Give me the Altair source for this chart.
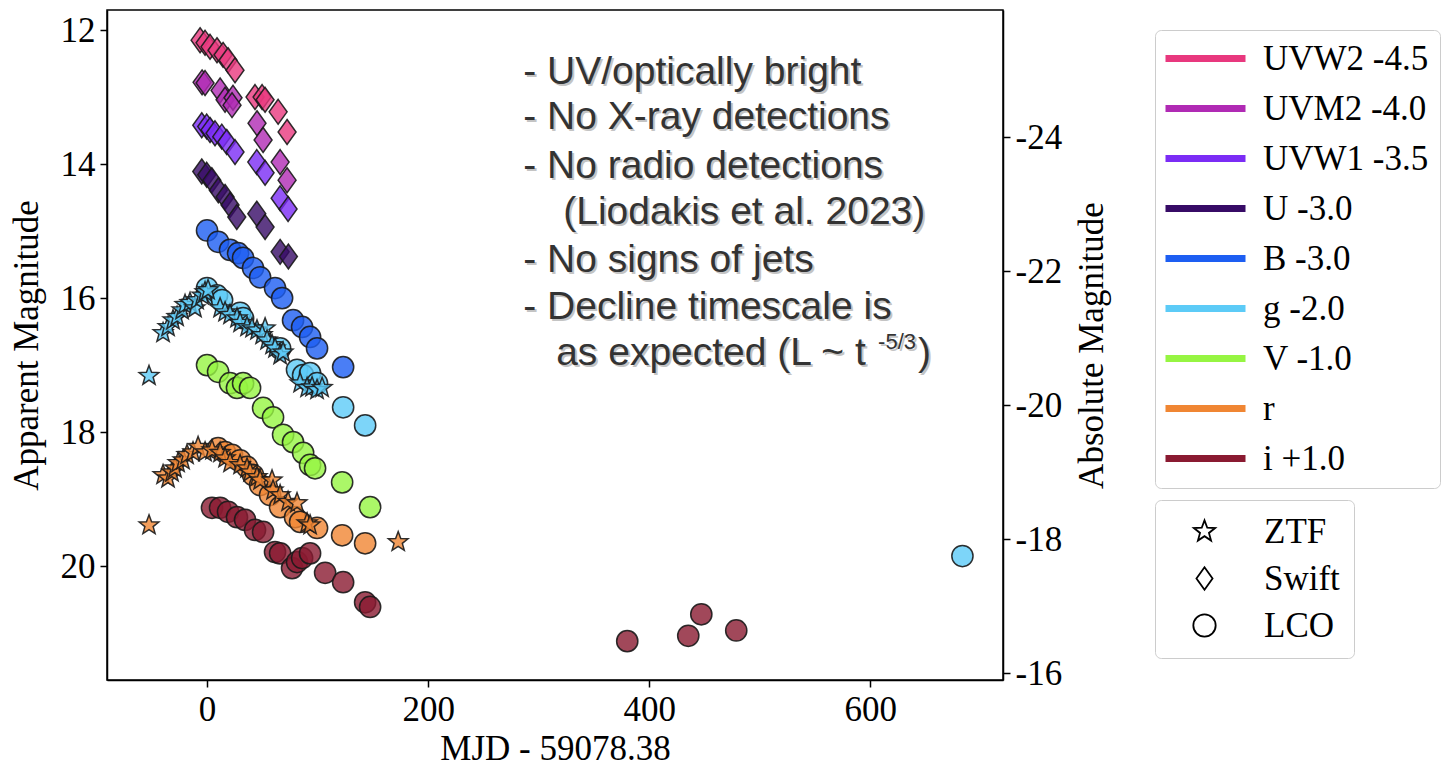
import math
import altair as alt
import pandas as pd

# ---------------- data ----------------
# Swift (diamonds)
uvw2_t = [-6.3, -1.8, 2.7, 9.0, 14.5, 19.0, 25.3, 43.4, 49.8, 52.5, 64.3, 72.4]
uvw2_m = [12.15, 12.19, 12.25, 12.30, 12.37, 12.45, 12.60, 13.00, 13.00, 13.04, 13.22, 13.52]
uvm2_t = [-4.5, -1.8, 11.8, 16.3, 23.5, 22.6, 45.2, 50.7, 66.1, 72.4]
uvm2_m = [12.78, 12.79, 12.90, 13.04, 13.01, 13.12, 13.39, 13.64, 13.97, 14.24]
uvw1_t = [-4.8, -0.3, 2.7, 7.2, 13.3, 17.8, 25.3, 45.0, 52.5, 66.1, 73.3]
uvw1_m = [13.42, 13.44, 13.49, 13.54, 13.59, 13.67, 13.82, 13.97, 14.13, 14.51, 14.67]
u_t = [-4.8, -0.3, 4.3, 10.2, 16.3, 20.8, 26.9, 45.0, 52.5, 66.1, 73.6]
u_m = [14.11, 14.16, 14.24, 14.39, 14.49, 14.61, 14.79, 14.74, 14.94, 15.31, 15.38]
# LCO (circles)
b_t = [0.0, 10.0, 20.8, 28.1, 32.6, 41.6, 48.0, 61.5, 67.9, 77.8, 86.0, 93.2, 99.5, 123.1]
b_m = [14.99, 15.16, 15.28, 15.33, 15.40, 15.55, 15.69, 15.85, 16.00, 16.33, 16.43, 16.58, 16.75, 17.03]
g_lco_t = [0.0, 9.0, 13.6, 29.9, 32.6, 66.1, 81.4, 86.9, 93.2, 99.5, 123.1, 143.0, 683.3]
g_lco_m = [15.85, 15.96, 16.03, 16.22, 16.30, 16.75, 17.07, 17.15, 17.12, 17.27, 17.63, 17.90, 19.85]
v_t = [0.0, 10.0, 20.8, 27.1, 32.6, 38.9, 50.7, 59.7, 68.8, 77.8, 86.9, 93.2, 97.7, 122.2, 147.5]
v_m = [17.00, 17.10, 17.27, 17.34, 17.27, 17.34, 17.64, 17.78, 18.04, 18.15, 18.31, 18.49, 18.54, 18.75, 19.12]
r_lco_t = [10.0, 16.3, 22.6, 29.9, 36.2, 41.6, 48.0, 57.0, 66.1, 79.6, 84.2, 99.5, 122.2, 143.0]
r_lco_m = [18.24, 18.30, 18.34, 18.42, 18.52, 18.64, 18.79, 18.94, 19.12, 19.27, 19.34, 19.43, 19.54, 19.66]
i_t = [4.5, 11.8, 19.0, 27.1, 34.4, 43.4, 50.7, 61.5, 66.1, 76.9, 81.4, 86.0, 93.2, 106.8, 123.1, 143.0,
       147.5, 380.1, 435.3, 447.1, 478.7]
i_m = [19.13, 19.13, 19.19, 19.27, 19.31, 19.46, 19.49, 19.79, 19.81, 20.03, 19.94, 19.88, 19.81, 20.10,
       20.24, 20.54, 20.61, 21.12, 21.04, 20.72, 20.96]
# ZTF (stars)
g_ztf_t = [-52.5, -39.8, -35.3, -30.8, -27.1, -22.6, -19.9, -15.4, -10.9, -9.0, -4.5, -1.8, 0.9, 11.8, 16.3,
           20.8, 27.1, 29.9, 36.2, 40.7, 45.2, 52.5, 49.8, 54.3, 58.8, 61.5, 66.1, 68.8, 84.2, 90.5, 95.0,
           99.5, 104.1]
g_ztf_m = [17.16, 16.52, 16.43, 16.33, 16.28, 16.18, 16.10, 16.07, 16.15, 16.03, 15.96, 15.91, 15.88, 16.15,
           16.21, 16.25, 16.30, 16.37, 16.43, 16.45, 16.48, 16.45, 16.55, 16.63, 16.70, 16.75, 16.85, 16.81,
           17.27, 17.34, 17.33, 17.37, 17.34]
r_ztf_t = [-52.5, -39.8, -35.3, -31.7, -29.0, -26.2, -21.7, -18.1, -12.7, -8.1, -1.8, 4.5, 11.8, 16.3, 20.8,
           29.9, 36.2, 38.9, 45.2, 48.0, 58.8, 59.7, 66.1, 73.3, 81.4, 90.5, 93.2, 172.9]
r_ztf_m = [19.39, 18.64, 18.69, 18.60, 18.54, 18.46, 18.42, 18.34, 18.30, 18.22, 18.30, 18.27, 18.31, 18.39,
           18.46, 18.49, 18.54, 18.60, 18.67, 18.72, 18.72, 18.87, 18.94, 19.04, 19.06, 19.36, 19.39, 19.64]

BANDS = ["UVW2 -4.5", "UVM2 -4.0", "UVW1 -3.5", "U -3.0", "B -3.0", "g -2.0", "V -1.0", "r", "i +1.0"]
COLORS = ["#e8387e", "#b02ab4", "#7b2cf5", "#370b66", "#1d5ef2", "#5ccbf7", "#96f542", "#f08633", "#8a1a31"]
SURVEYS = ["ZTF", "Swift", "LCO"]
DIST_MOD = 37.6

ann_text = ["- UV/optically bright", "- No X-ray detections", "- No radio detections",
            "(Liodakis et al. 2023)", "- No signs of jets", "- Decline timescale is",
            "as expected (L ~ t"]
ann_x = [286.0, 286.0, 286.0, 322.2, 286.0, 286.0, 315.8]
ann_y = [12.63, 13.30, 14.03, 14.72, 15.43, 16.13, 16.82]
sup_text = ["-5/3"]
sup_x = [607.0]
sup_y = [16.66]
close_text = [")"]
close_x = [643.0]
close_y = [16.82]

# ---------------- table ----------------
rows = []


def add(band, survey, ts, ms):
    for t, m in zip(ts, ms):
        rows.append({"t": t, "mag": m, "band": band, "survey": survey})


add(BANDS[0], "Swift", uvw2_t, uvw2_m)
add(BANDS[1], "Swift", uvm2_t, uvm2_m)
add(BANDS[2], "Swift", uvw1_t, uvw1_m)
add(BANDS[3], "Swift", u_t, u_m)
add(BANDS[4], "LCO", b_t, b_m)
add(BANDS[5], "LCO", g_lco_t, g_lco_m)
add(BANDS[5], "ZTF", g_ztf_t, g_ztf_m)
add(BANDS[6], "LCO", v_t, v_m)
add(BANDS[7], "LCO", r_lco_t, r_lco_m)
add(BANDS[7], "ZTF", r_ztf_t, r_ztf_m)
add(BANDS[8], "LCO", i_t, i_m)
df = pd.DataFrame(rows)
df["order"] = range(len(df))

ann = pd.DataFrame({"t": ann_x, "mag": ann_y, "text": ann_text})
sup = pd.DataFrame({"t": sup_x, "mag": sup_y, "text": sup_text})
clo = pd.DataFrame({"t": close_x, "mag": close_y, "text": close_text})

# ---------------- symbols ----------------
pts = []
for k in range(10):
    rad = 1.0 if k % 2 == 0 else 0.42
    a = -math.pi / 2 + k * math.pi / 5
    pts.append(f"{rad * math.cos(a):.3f},{rad * math.sin(a):.3f}")
STAR = "M" + "L".join(pts) + "Z"
DIAMOND = "M0,-1L0.72,0L0,1L-0.72,0Z"
MARK_SIZE = {"ZTF": 430, "Swift": 620, "LCO": 450}

SERIF = "Liberation Serif"
SANS = "Liberation Sans"

x_scale = alt.Scale(domain=[-90.5, 720], nice=False, zero=False)
y_scale = alt.Scale(domain=[11.7, 21.7], reverse=True, nice=False, zero=False)
y2_scale = alt.Scale(domain=[11.7 - DIST_MOD, 21.7 - DIST_MOD], reverse=True, nice=False, zero=False)

X = alt.X("t:Q", scale=x_scale,
          axis=alt.Axis(title="MJD - 59078.38", values=[0, 200, 400, 600], format="d"))
Y = alt.Y("mag:Q", scale=y_scale,
          axis=alt.Axis(title="Apparent Magnitude", values=[12, 14, 16, 18, 20], format="d",
                        titlePadding=16))

shape_legend = alt.Legend(title=None, orient="none", legendX=1048, legendY=490,
                          symbolFillColor="white", symbolStrokeColor="black",
                          symbolStrokeWidth=1.8, symbolSize=500, symbolOpacity=1,
                          labelFont=SERIF, labelFontSize=35, labelColor="black", labelLimit=300,
                          padding=14, strokeColor="#cccccc", cornerRadius=6,
                          fillColor="white", rowPadding=11, symbolOffset=18, labelOffset=42)


def point_layer(survey):
    return alt.Chart(df).transform_filter(alt.datum.survey == survey).mark_point(
        filled=True, stroke="#1a1a1a", strokeWidth=1.5, fillOpacity=0.8, strokeOpacity=0.9,
        size=MARK_SIZE[survey],
    ).encode(
        x=X, y=Y,
        fill=alt.Fill("band:N", scale=alt.Scale(domain=BANDS, range=COLORS), legend=None),
        shape=alt.Shape("survey:N", scale=alt.Scale(domain=SURVEYS, range=[STAR, DIAMOND, "circle"]),
                        legend=shape_legend),
        order=alt.Order("order:Q"),
    )


legend_lines = alt.Chart(df).transform_filter("datum.t > 100000").mark_line(strokeWidth=7).encode(
    x=X, y=Y,
    stroke=alt.Stroke("band:N", scale=alt.Scale(domain=BANDS, range=COLORS),
                      legend=alt.Legend(title=None, orient="none", legendX=1048, legendY=20,
                                        symbolType="M-3.6,0L12.4,0", symbolSize=100, symbolStrokeWidth=7,
                                        labelFont=SERIF, labelFontSize=35, labelColor="black",
                                        labelLimit=300,
                                        padding=11, strokeColor="#cccccc", cornerRadius=6,
                                        fillColor="white", rowPadding=14, labelOffset=62)),
)


def text_layer(data, size, color, shift):
    return alt.Chart(data).mark_text(align="left", baseline="middle", font=SANS, fontSize=size,
                                     color=color, dx=shift, dy=shift).encode(x=X, y=Y, text="text:N")


main = alt.layer(
    legend_lines,
    point_layer("Swift"), point_layer("LCO"), point_layer("ZTF"),
    text_layer(ann, 39, "#c4c4c4", 2), text_layer(ann, 39, "#333333", 0),
    text_layer(sup, 22, "#c4c4c4", 2), text_layer(sup, 22, "#333333", 0),
    text_layer(clo, 39, "#c4c4c4", 2), text_layer(clo, 39, "#333333", 0),
)

right = alt.Chart(df).transform_calculate(absmag=f"datum.mag - {DIST_MOD}").mark_point(opacity=0).encode(
    x=X,
    y=alt.Y("absmag:Q", scale=y2_scale,
            axis=alt.Axis(title="Absolute Magnitude", orient="right", values=[-24, -22, -20, -18, -16],
                          titleAngle=270, titlePadding=48,
                          labelExpr="datum.value < 0 ? '-' + format(-datum.value, 'd') : format(datum.value, 'd')")),
)

chart = alt.layer(main, right).resolve_scale(y="independent").properties(
    width=896, height=670,
    autosize=alt.AutoSizeParams(type="none"),
    padding={"left": 107, "top": 10, "right": 442, "bottom": 86},
    background="white",
).configure_view(stroke="black", strokeWidth=1.5).configure_axis(
    grid=False, domainColor="black", domainWidth=1.5, tickColor="black", tickWidth=1.5, tickSize=7,
    labelFont=SERIF, labelFontSize=35, labelColor="black", labelPadding=5,
    titleFont=SERIF, titleFontSize=35, titleFontWeight="normal", titleColor="black",
)

chart.save("out.html", embed_options={"renderer": "svg", "actions": False})
